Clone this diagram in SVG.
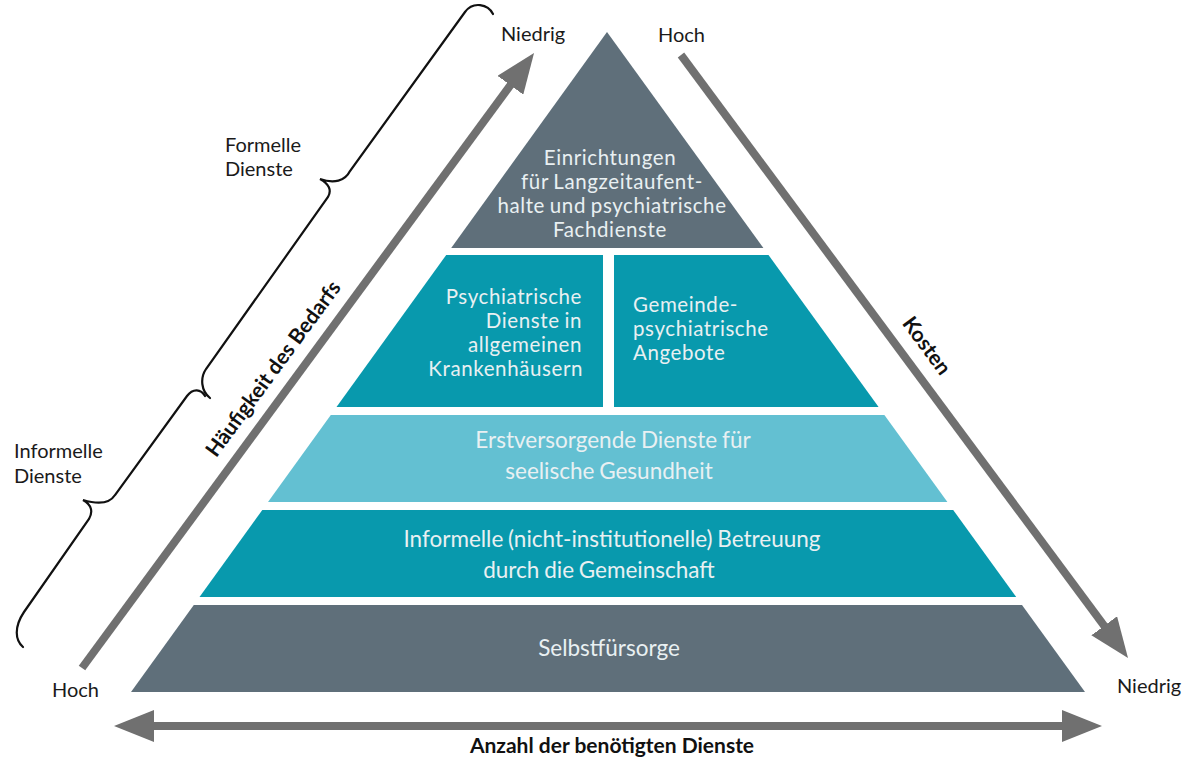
<svg xmlns="http://www.w3.org/2000/svg" width="1185" height="759" viewBox="0 0 1185 759">
<defs>
<style>
.slate{fill:#5f6f7a}
.teal{fill:#0899ad}
.light{fill:#63c0d2}
.pt{font-family:Lato,"Open Sans",sans-serif;font-size:22.5px;fill:#e9f0f2;text-anchor:middle;word-spacing:-1px}
.tight{font-size:20.5px;letter-spacing:0.6px}
.lbl{font-family:Lato,"Open Sans",sans-serif;font-size:20px;fill:#1a1a1a}
.bold{font-family:Lato,"Open Sans",sans-serif;font-size:21px;font-weight:bold;fill:#111;text-anchor:middle}
.arrow{stroke:#707070;stroke-width:8;fill:none}
.brace{stroke:#111;stroke-width:2.2;fill:none;stroke-linecap:round}
</style>
<marker id="head" markerUnits="userSpaceOnUse" viewBox="0 0 40 32" refX="20" refY="16" markerWidth="40" markerHeight="32" orient="auto-start-reverse">
<path d="M0,0 L40,16 L0,32 z" fill="#707070"/>
</marker>
</defs>
<rect width="1185" height="759" fill="#ffffff"/>

<g id="connectors">
<line class="arrow" x1="82" y1="668" x2="522.2" y2="69.1" marker-end="url(#head)"/>
<line class="arrow" x1="681" y1="55" x2="1116.1" y2="641.9" marker-end="url(#head)"/>
<line class="arrow" x1="134" y1="726" x2="1082" y2="726" marker-start="url(#head)" marker-end="url(#head)"/>
<path class="brace" d="M493,14 C488,4 473,1 465,12 L350,171 C345,181 334,184 320,179 C329,184 332,190 328,197 L206,369 C200,378 201,391 210,398"/>
<path class="brace" d="M205,396 C201,389 193,388 187,396 L115,495 C110,503 100,505 83,500 C92,505 93,512 89,519 L24,612 C14,627 15,640 23,647"/>
</g>

<g id="node-fachdienste">
<polygon class="slate" points="607,32 763.4,248 451.2,248"/>
<text class="pt tight" x="610" y="165">Einrichtungen</text>
<text class="pt tight" x="612" y="189">für Langzeitaufent-</text>
<text class="pt tight" x="612" y="213">halte und psychiatrische</text>
<text class="pt tight" x="610" y="237">Fachdienste</text>
</g>

<g id="node-krankenhaeuser">
<polygon class="teal" points="446.2,255 603,255 603,407 336.5,407"/>
<text class="pt tight" x="582" y="304" style="text-anchor:end">Psychiatrische</text>
<text class="pt tight" x="582" y="328" style="text-anchor:end">Dienste in</text>
<text class="pt tight" x="582" y="352" style="text-anchor:end">allgemeinen</text>
<text class="pt tight" x="583" y="376" style="text-anchor:end">Krankenhäusern</text>
</g>

<g id="node-gemeinde">
<polygon class="teal" points="614,255 768.5,255 878.6,407 614,407"/>
<text class="pt tight" x="633" y="312" style="text-anchor:start">Gemeinde-</text>
<text class="pt tight" x="633" y="336" style="text-anchor:start">psychiatrische</text>
<text class="pt tight" x="633" y="360" style="text-anchor:start">Angebote</text>
</g>

<g id="node-erstversorgung">
<polygon class="light" points="330.8,415 884.4,415 947.4,502 268,502"/>
<text class="pt" x="613" y="448">Erstversorgende Dienste für</text>
<text class="pt" x="609" y="479">seelische Gesundheit</text>
</g>

<g id="node-informell">
<polygon class="teal" points="262.3,510 953.2,510 1016.2,597 199.5,597"/>
<text class="pt" x="612" y="547">Informelle (nicht-institutionelle) Betreuung</text>
<text class="pt" x="599" y="578">durch die Gemeinschaft</text>
</g>

<g id="node-selbstfuersorge">
<polygon class="slate" points="193.8,605 1022,605 1085,692 131,692"/>
<text class="pt" x="609" y="656">Selbstfürsorge</text>
</g>

<g id="labels">
<text class="lbl" x="501" y="41">Niedrig</text>
<text class="lbl" x="658" y="42">Hoch</text>
<text class="lbl" x="52" y="697">Hoch</text>
<text class="lbl" x="1117" y="693">Niedrig</text>
<text class="lbl" x="225" y="152">Formelle</text>
<text class="lbl" x="225" y="176">Dienste</text>
<text class="lbl" x="14" y="458">Informelle</text>
<text class="lbl" x="14" y="483">Dienste</text>
<text class="bold" transform="translate(279,373) rotate(-53.7)">Häufigkeit des Bedarfs</text>
<text class="bold" transform="translate(921,350) rotate(53.6)">Kosten</text>
<text class="bold" x="612" y="753">Anzahl der benötigten Dienste</text>
</g>
</svg>
